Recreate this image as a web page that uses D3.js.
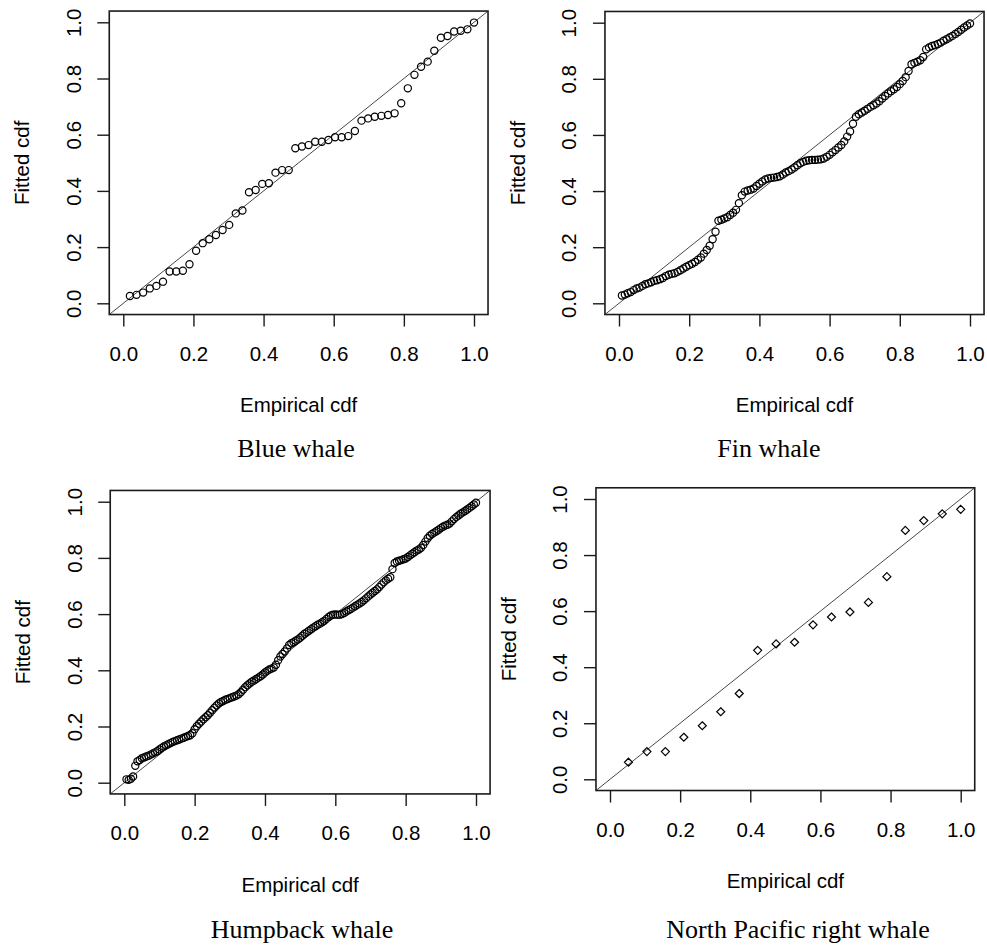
<!DOCTYPE html>
<html>
<head>
<meta charset="utf-8">
<script src="https://cdn.jsdelivr.net/npm/d3@7"></script>
<style>
body { margin: 0; background: #fff; }
.axis text { font-family: "Liberation Sans", Arial, sans-serif; font-size: 20.5px; fill: #000; }
.lab { font-family: "Liberation Sans", Arial, sans-serif; font-size: 20.5px; fill: #000; }
.title { font-family: "Liberation Serif", "Times New Roman", serif; font-size: 26px; fill: #000; }
</style>
</head>
<body>
<script>
// fitted cdf values, in order of the empirical cdf (rank / n)
var blueFitted = [0.026,0.030,0.038,0.053,0.062,0.077,0.113,0.113,0.116,0.139,
    0.187,0.214,0.228,0.243,0.261,0.279,0.320,0.330,0.395,0.403,
    0.425,0.427,0.465,0.474,0.474,0.552,0.558,0.563,0.575,0.575,
    0.581,0.591,0.591,0.595,0.613,0.650,0.658,0.664,0.667,0.670,
    0.676,0.712,0.765,0.813,0.842,0.860,0.899,0.945,0.951,0.967,
    0.970,0.975,0.999];

var finFitted = [0.028,0.031,0.036,0.040,0.047,0.053,0.056,0.062,0.068,0.071,
    0.075,0.080,0.082,0.086,0.090,0.097,0.102,0.105,0.107,0.112,
    0.118,0.124,0.130,0.136,0.141,0.147,0.155,0.163,0.177,0.190,
    0.205,0.228,0.255,0.294,0.298,0.302,0.307,0.315,0.323,0.333,
    0.357,0.385,0.398,0.402,0.405,0.409,0.418,0.426,0.434,0.441,
    0.445,0.447,0.448,0.450,0.453,0.459,0.466,0.471,0.477,0.484,
    0.492,0.499,0.504,0.508,0.510,0.511,0.511,0.512,0.513,0.516,
    0.522,0.529,0.538,0.546,0.555,0.564,0.577,0.594,0.612,0.640,
    0.665,0.674,0.680,0.686,0.693,0.700,0.706,0.712,0.720,0.730,
    0.739,0.748,0.756,0.763,0.771,0.781,0.792,0.806,0.828,0.852,
    0.857,0.861,0.866,0.878,0.905,0.912,0.917,0.920,0.924,0.929,
    0.936,0.941,0.947,0.953,0.960,0.967,0.975,0.983,0.990,0.997];

var humpbackFitted = [0.012,0.010,0.014,0.022,0.060,0.076,0.081,0.087,0.090,0.093,
    0.096,0.100,0.104,0.108,0.112,0.118,0.124,0.129,0.133,0.137,
    0.141,0.145,0.148,0.151,0.154,0.157,0.160,0.163,0.166,0.169,
    0.176,0.190,0.201,0.210,0.218,0.226,0.233,0.240,0.249,0.258,
    0.267,0.275,0.282,0.287,0.291,0.295,0.298,0.301,0.304,0.307,
    0.310,0.315,0.322,0.331,0.340,0.347,0.353,0.359,0.364,0.369,
    0.374,0.379,0.385,0.392,0.398,0.403,0.406,0.410,0.420,0.436,
    0.449,0.458,0.467,0.478,0.490,0.496,0.500,0.505,0.510,0.516,
    0.523,0.530,0.535,0.541,0.546,0.552,0.557,0.562,0.566,0.571,
    0.576,0.583,0.590,0.595,0.598,0.599,0.598,0.598,0.600,0.604,
    0.609,0.614,0.618,0.623,0.628,0.633,0.638,0.643,0.649,0.656,
    0.663,0.670,0.676,0.682,0.688,0.696,0.705,0.713,0.720,0.726,
    0.731,0.760,0.782,0.787,0.790,0.792,0.795,0.798,0.803,0.809,
    0.815,0.820,0.826,0.830,0.836,0.846,0.858,0.870,0.879,0.885,
    0.890,0.895,0.900,0.906,0.911,0.915,0.918,0.922,0.930,0.938,
    0.945,0.951,0.957,0.962,0.967,0.972,0.978,0.984,0.990,0.996];

var rightFitted = [0.061,0.099,0.099,0.150,0.191,0.241,0.306,0.460,0.483,0.489,
    0.551,0.579,0.597,0.631,0.723,0.888,0.923,0.947,0.963];

var tickValues = [0, 0.2, 0.4, 0.6, 0.8, 1.0];
var speciesNames = ["Blue whale", "Fin whale", "Humpback whale", "North Pacific right whale"];
var xLabel = "Empirical cdf", yLabel = "Fitted cdf";

var panels = [
    {title: speciesNames[0], fitted: blueFitted, x0: 123.3, x1: 474, y0: 303.3, y1: 22.3, tx: 296, ty: 457, mark: "circle"},
    {title: speciesNames[1], fitted: finFitted, x0: 619, x1: 970, y0: 303.3, y1: 22.7, tx: 769, ty: 457, mark: "circle"},
    {title: speciesNames[2], fitted: humpbackFitted, x0: 124.3, x1: 476, y0: 782.7, y1: 501.7, tx: 302, ty: 938, mark: "circle"},
    {title: speciesNames[3], fitted: rightFitted, x0: 610, x1: 960.7, y0: 779.3, y1: 499, tx: 798, ty: 938, mark: "diamond"}
];

var svg = d3.select("body").append("svg")
    .attr("width", 987)
    .attr("height", 949);

var fmt = d3.format(".1f");

panels.forEach(function(p, k) {
    var x = d3.scaleLinear().domain([0, 1]).range([p.x0, p.x1]);
    var y = d3.scaleLinear().domain([0, 1]).range([p.y0, p.y1]);
    var left = x(-0.04), right = x(1.04), top = y(1.04), bottom = y(-0.04);
    var n = p.fitted.length;
    var pts = p.fitted.map(function(v, i) { return {e: (i + 1) / n, f: v}; });

    var g = svg.append("g").attr("class", "panel");

    g.append("clipPath").attr("id", "clip" + k)
      .append("rect")
        .attr("x", left).attr("y", top)
        .attr("width", right - left).attr("height", bottom - top);

    // reference line y = x
    g.append("line")
        .attr("clip-path", "url(#clip" + k + ")")
        .attr("x1", x(-0.04)).attr("y1", y(-0.04))
        .attr("x2", x(1.04)).attr("y2", y(1.04))
        .attr("stroke", "#333")
        .attr("stroke-width", 0.9);

    if (p.mark == "circle") {
        g.append("g").selectAll("circle")
            .data(pts)
          .enter().append("circle")
            .attr("cx", function(d) { return x(d.e); })
            .attr("cy", function(d) { return y(d.f); })
            .attr("r", 3.6)
            .attr("fill", "none")
            .attr("stroke", "#000")
            .attr("stroke-width", 1.2);
    } else {
        g.append("g").selectAll("path")
            .data(pts)
          .enter().append("path")
            .attr("transform", function(d) { return "translate(" + x(d.e) + "," + y(d.f) + ")"; })
            .attr("d", "M0,-4L4,0L0,4L-4,0Z")
            .attr("fill", "none")
            .attr("stroke", "#000")
            .attr("stroke-width", 1.2);
    }

    // box
    g.append("rect")
        .attr("x", left).attr("y", top)
        .attr("width", right - left).attr("height", bottom - top)
        .attr("fill", "none")
        .attr("stroke", "#1a1a1a")
        .attr("stroke-width", 1.6);

    var xAxis = d3.axisBottom(x).tickValues(tickValues).tickFormat(fmt)
        .tickSizeInner(12).tickSizeOuter(0);
    var yAxis = d3.axisLeft(y).tickValues(tickValues).tickFormat(fmt)
        .tickSizeInner(12).tickSizeOuter(0);

    var gx = g.append("g").attr("class", "x axis")
        .attr("transform", "translate(0," + bottom + ")")
        .call(xAxis);
    gx.select(".domain").remove();
    gx.selectAll("line").attr("stroke", "#1a1a1a").attr("stroke-width", 1.4);
    gx.selectAll("text").attr("y", 46).attr("dy", 0);

    var gy = g.append("g").attr("class", "y axis")
        .attr("transform", "translate(" + left + ",0)")
        .call(yAxis);
    gy.select(".domain").remove();
    gy.selectAll("line").attr("stroke", "#1a1a1a").attr("stroke-width", 1.4);
    gy.selectAll("text")
        .attr("x", null).attr("dy", 0)
        .attr("transform", "translate(-28.5,0) rotate(-90)")
        .style("text-anchor", "middle");

    g.append("text").attr("class", "lab")
        .attr("x", (left + right) / 2)
        .attr("y", bottom + 97.7)
        .style("text-anchor", "middle")
        .text(xLabel);

    g.append("text").attr("class", "lab")
        .attr("transform", "translate(" + (left - 80) + "," + ((top + bottom) / 2) + ") rotate(-90)")
        .style("text-anchor", "middle")
        .text(yLabel);

    g.append("text").attr("class", "title")
        .attr("x", p.tx).attr("y", p.ty)
        .style("text-anchor", "middle")
        .text(p.title);
});
</script>
</body>
</html>
